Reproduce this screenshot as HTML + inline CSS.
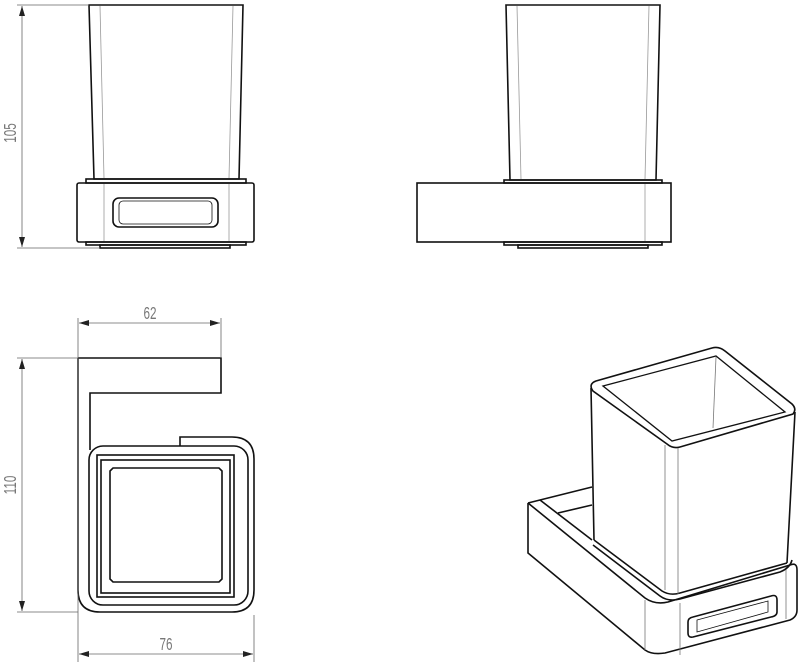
<!DOCTYPE html>
<html><head><style>html,body{margin:0;padding:0;background:#fff}svg{display:block}</style></head>
<body>
<svg width="805" height="663" viewBox="0 0 805 663" xmlns="http://www.w3.org/2000/svg" font-family="Liberation Sans, sans-serif">
<defs>
<marker id="a" viewBox="0 0 10 6" refX="10" refY="3" markerWidth="10" markerHeight="6" orient="auto-start-reverse" markerUnits="userSpaceOnUse"><path d="M0,0 L10,3 L0,6 z" fill="#222"/></marker>
</defs>
<g fill="none" stroke="#111" stroke-width="1.6">
<!-- top-left view -->
<path d="M89,5 L243,5 L239,179 L94,179 Z"/>
<path d="M100,6 L104,178 M233,6 L229,178" stroke="#999" stroke-width="0.8"/>
<rect x="86" y="179" width="160" height="4"/>
<rect x="77" y="183" width="177" height="59" rx="2"/>
<path d="M104,184 V241 M229,184 V241" stroke="#999" stroke-width="0.8"/>
<rect x="113" y="198" width="105" height="29" rx="6"/>
<rect x="119" y="201" width="93" height="23" rx="4" stroke-width="0.8"/>
<rect x="86" y="242" width="160" height="3"/>
<rect x="100" y="245" width="130" height="3"/>
<!-- top-right view -->
<path d="M506,5 L660,5 L656,180 L510,180 Z"/>
<path d="M517,6 L521,179 M649,6 L645,179" stroke="#999" stroke-width="0.8"/>
<rect x="504" y="180" width="158" height="3"/>
<rect x="417" y="183" width="254" height="59"/>
<path d="M645,184 V241" stroke="#999" stroke-width="0.8"/>
<rect x="504" y="242" width="158" height="3"/>
<rect x="518" y="245" width="130" height="3"/>
<!-- bottom-left view -->
<path d="M78,358 H221 V393 H90 V450"/>
<path d="M78,358 V590"/>
<path d="M78,590 Q78,612 100,612 H232 Q254,612 254,590 V459 Q254,437 232,437 H180 V446"/>
<rect x="89" y="446" width="159" height="159" rx="14"/>
<rect x="97" y="455" width="137" height="142"/>
<rect x="101" y="460" width="129" height="133"/>
<path d="M113,468 H219 L222,471 V579 L219,582 H113 L110,579 V471 Z"/>
<!-- iso view: tray -->
<path d="M528,503 L592,487 M558,513 L592,505"/>
<path d="M540,500 L592,540"/>
<path d="M528,503 L645,598 Q655,605 668,602 L790,565 Q797,562 797,570"/>
<path d="M528,503 V553 L645,650 Q652,655 665,653 L790,620 Q797,617 797,610 V570"/>
<path d="M645,600 V650 M680,603 V655 M786,567 V619" stroke="#777" stroke-width="0.8"/>
<path d="M693,617 L771,596 Q777,594 777,600 V612 Q777,616 771,617 L693,637 Q688,638 688,633 V622 Q688,618 693,617 Z"/>
<path d="M697,620 L768,601 V612 L697,632 Z" stroke-width="0.8"/>
<!-- cup base rings -->
<path d="M593,545 L660,596 Q668,602 680,599 L780,572 Q790,568 792,560"/>
<path d="M594,540 L662,591 Q670,596 680,593 L787,563"/>
<!-- cup -->
<path d="M596,381 L712,348 Q719,346 725,351 L792,404 Q797,409 793,414 L680,447 Q673,449 667,444 L593,391 Q588,384 596,381 Z" fill="#fff"/>
<path d="M603,386 L716,356 L785,412 L672,441 Z" stroke-width="1.3"/>
<path d="M591,388 L594,540 M795,412 L787,563"/>
<path d="M716,357 L713,428" stroke="#777" stroke-width="0.8"/>
<path d="M665,445 V590 M678,448 V594" stroke="#777" stroke-width="0.8"/>
</g>
<!-- dimensions -->
<g stroke="#666" stroke-width="0.8" fill="none">
<path d="M17,5 H89 M17,248 H100"/>
<path d="M22,6 V247" marker-start="url(#a)" marker-end="url(#a)"/>
<path d="M78,318 V662 M221,318 V358 M254,615 V662"/>
<path d="M79,323 H220" marker-start="url(#a)" marker-end="url(#a)"/>
<path d="M17,358 H78 M17,612 H78"/>
<path d="M22,359 V611" marker-start="url(#a)" marker-end="url(#a)"/>
<path d="M79,654 H253" marker-start="url(#a)" marker-end="url(#a)"/>
</g>
<g fill="#777" font-size="18">
<text transform="translate(16,133) rotate(-90) scale(0.65,1)" text-anchor="middle">105</text>
<text transform="translate(16,485) rotate(-90) scale(0.65,1)" text-anchor="middle">110</text>
<text transform="translate(150,319) scale(0.65,1)" text-anchor="middle">62</text>
<text transform="translate(166,650) scale(0.65,1)" text-anchor="middle">76</text>
</g>
</svg>
</body></html>
